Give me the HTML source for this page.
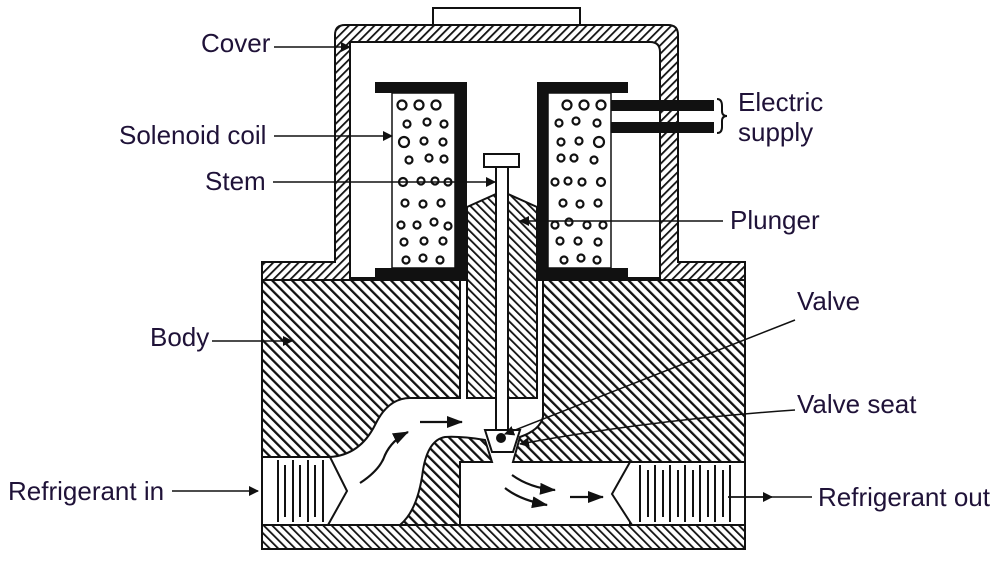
<!DOCTYPE html>
<html><head><meta charset="utf-8"><style>
html,body{margin:0;padding:0;background:#fff;width:1000px;height:561px;overflow:hidden}
svg text{font-family:"Liberation Sans",Arial,sans-serif;font-size:26px;fill:#1f1238}
</style></head><body>
<svg width="1000" height="561" viewBox="0 0 1000 561" xmlns="http://www.w3.org/2000/svg">
<defs>
<pattern id="hs" width="6" height="6" patternUnits="userSpaceOnUse" patternTransform="rotate(45)">
<rect width="6" height="6" fill="#fff"/><rect width="1.8" height="6" fill="#111"/></pattern>
<pattern id="hb" width="7" height="7" patternUnits="userSpaceOnUse" patternTransform="rotate(-45)">
<rect width="7" height="7" fill="#fff"/><rect width="2.3" height="7" fill="#111"/></pattern>
<pattern id="hc" width="6" height="6" patternUnits="userSpaceOnUse" patternTransform="rotate(-45)">
<rect width="6" height="6" fill="#fff"/><rect width="1.8" height="6" fill="#111"/></pattern>
<marker id="ar" markerWidth="10" markerHeight="10" refX="9" refY="5" orient="auto" markerUnits="userSpaceOnUse"><path d="M0,0 L10,5 L0,10 z" fill="#111"/></marker>
<marker id="ab" markerWidth="16" markerHeight="12" refX="15" refY="6" orient="auto" markerUnits="userSpaceOnUse"><path d="M0,0 L16,6 L0,12 z" fill="#111"/></marker>
</defs>
<rect x="433" y="8" width="147" height="17" fill="#fff" stroke="#111" stroke-width="2"/>
<path d="M262,262 L335,262 L335,35 Q335,25 345,25 L668,25 Q678,25 678,35 L678,262 L745,262 L745,280 L262,280 Z" fill="url(#hs)" stroke="#111" stroke-width="2"/>
<path d="M350,278 L350,42 L650,42 Q660,42 660,52 L660,278 Z" fill="#fff" stroke="#111" stroke-width="2"/>
<rect x="262" y="280" width="483" height="269" fill="url(#hb)" stroke="#111" stroke-width="2"/>
<rect x="262" y="525" width="483" height="24" fill="url(#hc)" stroke="#111" stroke-width="2"/>
<path d="M262,457 L330,457 Q360,455 375,425 Q388,398 410,398 L460,398 L460,280 L467,280 L467,398 L537,398 L537,280 L543,280 L543,417 Q540,430 520,437 L513,462 L630,462 L630,525 L460,525 L460,462 L492,462 L485,440 Q460,436 445,437 Q428,440 423,470 Q418,510 400,525 L262,525 Z" fill="#fff" stroke="#111" stroke-width="2"/>
<path d="M467,207 L496,194 L508,194 L537,207 L537,398 L467,398 Z" fill="url(#hc)" stroke="#111" stroke-width="2"/>
<rect x="496" y="167" width="12" height="263" fill="#fff" stroke="#111" stroke-width="2"/>
<rect x="484" y="154" width="35" height="13" fill="#fff" stroke="#111" stroke-width="2"/>
<path d="M485,430 L520,430 L513,452 L492,452 Z" fill="#fff" stroke="#111" stroke-width="2"/>
<circle cx="501" cy="438" r="5" fill="#111"/>
<g fill="#fff" stroke="#111" stroke-width="2">
<path d="M262,457 L330,457 L347,491 L328,525 L262,525 Z"/>
<path d="M745,462 L630,462 L612,494 L632,525 L745,525 Z"/>
</g>
<g stroke="#111" stroke-width="2" fill="none">
<path d="M278,460 V522 M293,460 V522 M308,460 V522 M323,460 V522"/>
<path d="M285,465 V517 M300,465 V517 M315,465 V517"/>
<path d="M640,465 V522 M655,465 V522 M670,465 V522 M685,465 V522 M700,465 V522 M715,465 V522 M730,465 V522"/>
<path d="M648,470 V517 M663,470 V517 M678,470 V517 M693,470 V517 M708,470 V517 M723,470 V517"/>
</g>
<g fill="#111">
<rect x="375" y="82" width="92" height="11"/><rect x="455" y="82" width="12" height="196"/><rect x="375" y="268" width="92" height="10"/>
<rect x="537" y="82" width="91" height="11"/><rect x="537" y="82" width="11" height="196"/><rect x="537" y="268" width="91" height="10"/>
<rect x="611" y="100" width="103" height="11"/><rect x="611" y="122" width="103" height="11"/>
</g>
<rect x="392" y="93" width="63" height="175" fill="#fff" stroke="#111" stroke-width="1.5"/>
<rect x="548" y="93" width="63" height="175" fill="#fff" stroke="#111" stroke-width="1.5"/>
<g fill="none" stroke="#111" stroke-width="2.2">
<circle cx="402" cy="105" r="4.5"/><circle cx="419" cy="105" r="4.5"/><circle cx="436" cy="105" r="4.5"/>
<circle cx="407" cy="124" r="3.5"/><circle cx="427" cy="122" r="3.5"/><circle cx="444" cy="124" r="3.5"/>
<circle cx="404" cy="142" r="5"/><circle cx="424" cy="141" r="3.5"/><circle cx="443" cy="142" r="3.5"/>
<circle cx="409" cy="160" r="3.5"/><circle cx="429" cy="158" r="3.5"/><circle cx="444" cy="159" r="3.5"/>
<circle cx="403" cy="182" r="4"/><circle cx="421" cy="181" r="3.5"/><circle cx="435" cy="181" r="3.5"/><circle cx="448" cy="182" r="3.5"/>
<circle cx="405" cy="203" r="3.5"/><circle cx="423" cy="204" r="3.5"/><circle cx="441" cy="203" r="3.5"/>
<circle cx="401" cy="225" r="3.5"/><circle cx="417" cy="225" r="3.5"/><circle cx="434" cy="222" r="3.5"/><circle cx="448" cy="226" r="3.5"/>
<circle cx="404" cy="242" r="3.5"/><circle cx="424" cy="241" r="3.5"/><circle cx="443" cy="241" r="3.5"/>
<circle cx="406" cy="260" r="3.5"/><circle cx="423" cy="258" r="3.5"/><circle cx="440" cy="260" r="3.5"/>
<circle cx="567" cy="105" r="4.5"/><circle cx="584" cy="105" r="4.5"/><circle cx="601" cy="105" r="4.5"/>
<circle cx="559" cy="123" r="3.5"/><circle cx="576" cy="121" r="3.5"/><circle cx="597" cy="123" r="3.5"/>
<circle cx="561" cy="142" r="3.5"/><circle cx="579" cy="141" r="3.5"/><circle cx="599" cy="142" r="5"/>
<circle cx="561" cy="158" r="3.5"/><circle cx="574" cy="158" r="3.5"/><circle cx="594" cy="160" r="3.5"/>
<circle cx="555" cy="182" r="3.5"/><circle cx="568" cy="181" r="3.5"/><circle cx="582" cy="182" r="3.5"/><circle cx="601" cy="182" r="4"/>
<circle cx="563" cy="203" r="3.5"/><circle cx="580" cy="204" r="3.5"/><circle cx="598" cy="203" r="3.5"/>
<circle cx="555" cy="225" r="3.5"/><circle cx="569" cy="222" r="3.5"/><circle cx="587" cy="225" r="3.5"/><circle cx="603" cy="225" r="3.5"/>
<circle cx="560" cy="241" r="3.5"/><circle cx="578" cy="241" r="3.5"/><circle cx="598" cy="242" r="3.5"/>
<circle cx="564" cy="260" r="3.5"/><circle cx="581" cy="258" r="3.5"/><circle cx="597" cy="260" r="3.5"/>
</g>
<g stroke="#111" stroke-width="2.2" fill="none">
<path d="M360,483 Q380,470 385,455 Q392,440 408,432" marker-end="url(#ab)"/>
<path d="M420,422 L462,422" marker-end="url(#ab)"/>
<path d="M512,475 Q530,488 555,490" marker-end="url(#ab)"/>
<path d="M505,488 Q520,500 547,505" marker-end="url(#ab)"/>
<path d="M570,497 L603,497" marker-end="url(#ab)"/>
</g>
<g stroke="#111" stroke-width="1.5" fill="none">
<path d="M274,47 L350,47" marker-end="url(#ar)"/>
<path d="M274,136 L392,136" marker-end="url(#ar)"/>
<path d="M273,182 L495,182" marker-end="url(#ar)"/>
<path d="M212,341 L292,341" marker-end="url(#ar)"/>
<path d="M172,491 L258,491" marker-end="url(#ar)"/>
<path d="M723,221 L520,221" marker-end="url(#ar)"/>
<path d="M795,320 L505,434" marker-end="url(#ar)"/>
<path d="M795,410 Q650,420 520,444" marker-end="url(#ar)"/>
<path d="M728,497 L812,497"/>
<path d="M728,497 L772,497" marker-end="url(#ar)"/>
<path d="M717,99 Q722,99 722,106 L722,111 Q722,116 727,116 Q722,116 722,121 L722,127 Q722,133 717,133" stroke-width="2"/>
</g>
<text x="201" y="52">Cover</text>
<text x="119" y="144">Solenoid coil</text>
<text x="205" y="190">Stem</text>
<text x="150" y="346">Body</text>
<text x="8" y="500">Refrigerant in</text>
<text x="738" y="111">Electric</text>
<text x="738" y="141">supply</text>
<text x="730" y="229">Plunger</text>
<text x="797" y="310">Valve</text>
<text x="797" y="413">Valve seat</text>
<text x="818" y="506">Refrigerant out</text>
</svg>
</body></html>
